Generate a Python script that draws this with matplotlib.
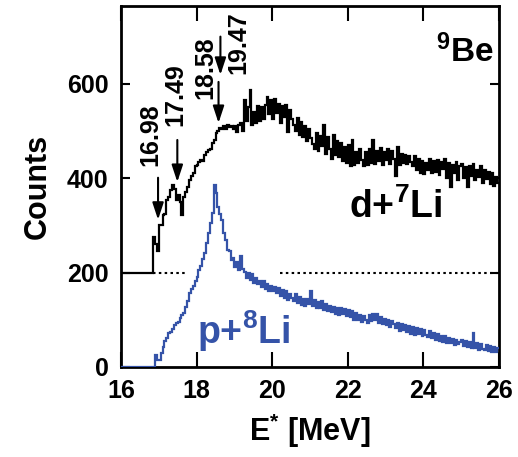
import numpy as np
import matplotlib
matplotlib.use('Agg')
import matplotlib.pyplot as plt

# Dados (contagens por bin de 0.05 MeV, de 16.00 a 26.00 MeV)
bin_width = 0.05
e_start = 16.0

# d+7Li (sem o deslocamento de +200 do gráfico)
d7li = [
    0, 0, 0, 0, 0, 0, 0, 0, 0, 0, 0, 0, 0, 0, 0, 0, 0, 76, 60, 45,
    101, 100, 122, 125, 154, 160, 175, 186, 178, 154, 165, 150, 122, 161, 170, 182, 197, 205, 212, 225,
    228, 235, 239, 236, 250, 255, 260, 262, 275, 280, 296, 300, 307, 305, 310, 305, 312, 308, 310, 305,
    310, 298, 312, 318, 300, 366, 322, 350, 387, 312, 340, 318, 352, 322, 350, 326, 356, 372, 336, 365,
    325, 368, 338, 358, 318, 352, 330, 355, 298, 345, 325, 312, 300, 328, 292, 320, 288, 310, 278, 304,
    285, 272, 262, 296, 258, 290, 268, 312, 252, 288, 262, 240, 292, 250, 278, 244, 275, 236, 266, 232,
    270, 225, 280, 228, 255, 232, 262, 238, 225, 256, 228, 262, 232, 281, 230, 258, 236, 264, 228, 255,
    238, 262, 230, 258, 240, 204, 266, 228, 252, 232, 250, 230, 248, 234, 226, 246, 218, 240, 212, 236,
    208, 232, 218, 240, 210, 236, 214, 238, 206, 234, 220, 240, 200, 232, 182, 228, 212, 234, 196, 226,
    230, 200, 224, 182, 226, 204, 230, 196, 218, 202, 225, 190, 218, 198, 214, 188, 210, 184, 202, 190,
]

# p+8Li
p8li = [
    0, 0, 0, 0, 0, 0, 0, 0, 0, 0, 0, 0, 0, 0, 0, 0, 0, 0, 25, 15,
    14, 30, 43, 55, 62, 72, 75, 80, 88, 93, 95, 104, 110, 115, 128, 140, 157, 165, 172, 182,
    191, 205, 215, 228, 241, 262, 284, 305, 326, 386, 369, 340, 325, 312, 284, 268, 248, 245, 227, 230,
    212, 222, 206, 235, 208, 202, 188, 200, 184, 197, 178, 188, 176, 182, 170, 183, 166, 176, 162, 172,
    160, 170, 156, 168, 150, 164, 146, 160, 142, 154, 146, 140, 155, 136, 148, 132, 145, 130, 143, 134,
    160, 130, 142, 124, 138, 126, 140, 120, 134, 118, 130, 116, 128, 113, 126, 110, 124, 112, 122, 108,
    120, 106, 118, 100, 114, 100, 110, 96, 108, 100, 94, 110, 98, 112, 100, 112, 94, 105, 90, 102,
    88, 100, 84, 97, 90, 82, 94, 76, 92, 78, 88, 74, 86, 70, 84, 68, 82, 70, 80, 66,
    78, 68, 64, 77, 62, 72, 58, 70, 56, 66, 53, 65, 51, 62, 50, 60, 46, 58, 48, 53,
    57, 45, 55, 42, 52, 40, 72, 40, 50, 37, 48, 39, 36, 46, 33, 44, 32, 42, 31, 40,
]

offset = 200

# Setas (energias dos níveis)
arrow_labels = ['16.98', '17.49', '18.58', '19.47']
arrow_x = [16.98, 17.49, 18.58, 18.63]
arrow_tail = [401, 481, 604, 700]
arrow_tip = [312, 392, 517, 619]
label_x = [16.77, 17.43, 18.22, 19.10]
label_y = [492, 577, 634, 687]

# Linha pontilhada em 200 (segmentos)
dot_segments = [(16.85, 17.72), (20.2, 26.0)]

blue = '#3553a8'

plt.rcParams['font.family'] = 'Liberation Sans'
plt.rcParams['font.weight'] = 'bold'
plt.rcParams['axes.labelweight'] = 'bold'
plt.rcParams['mathtext.fontset'] = 'custom'
plt.rcParams['mathtext.rm'] = 'Liberation Sans:bold'
plt.rcParams['mathtext.bf'] = 'Liberation Sans:bold'
plt.rcParams['mathtext.it'] = 'Liberation Sans:bold'

edges = e_start + bin_width * np.arange(len(d7li) + 1)

fig = plt.figure(figsize=(5.18, 4.57), dpi=100)
ax = fig.add_axes([0.2336, 0.197, 0.7297, 0.790])

for a, b in dot_segments:
    ax.plot([a, b], [offset, offset], color='k', lw=1.5, ls=(0, (1.2, 1.6)))

ax.stairs(np.array(d7li) + offset, edges, baseline=None, color='k', lw=1.6, zorder=3)
ax.stairs(p8li, edges, baseline=None, color=blue, lw=1.6, zorder=3)

for lab, x, yt, yh, lx, ly in zip(arrow_labels, arrow_x, arrow_tail, arrow_tip, label_x, label_y):
    ax.annotate('', xy=(x, yh), xytext=(x, yt),
                arrowprops=dict(arrowstyle='-|>,head_length=0.85,head_width=0.28',
                                mutation_scale=12, lw=1.5, color='k',
                                shrinkA=0, shrinkB=0))
    ax.text(lx, ly, lab, rotation=90, ha='center', va='center', fontsize=18)

ax.text(25.85, 645, '$^{9}$Be', ha='right', va='baseline', fontsize=24)
ax.text(24.5, 315, 'd+$^{7}$Li', ha='right', va='baseline', fontsize=27)
ax.text(18.02, 48, 'p+$^{8}$Li', ha='left', va='baseline', fontsize=27, color=blue)

ax.set_xlim(16, 26)
ax.set_ylim(0, 765)
ax.set_xticks([16, 18, 20, 22, 24, 26])
ax.set_yticks([0, 200, 400, 600])
ax.tick_params(axis='x', direction='in', length=11, width=1.5, top=True, pad=9, labelsize=18)
ax.tick_params(axis='y', direction='in', length=6.5, width=1.5, right=True, pad=9, labelsize=18)
for s in ax.spines.values():
    s.set_linewidth(2)

ax.set_xlabel('E$^{*}$ [MeV]', fontsize=22, labelpad=6)
ax.set_ylabel('Counts', fontsize=22, labelpad=10)

fig.savefig('out.png', dpi=100)
